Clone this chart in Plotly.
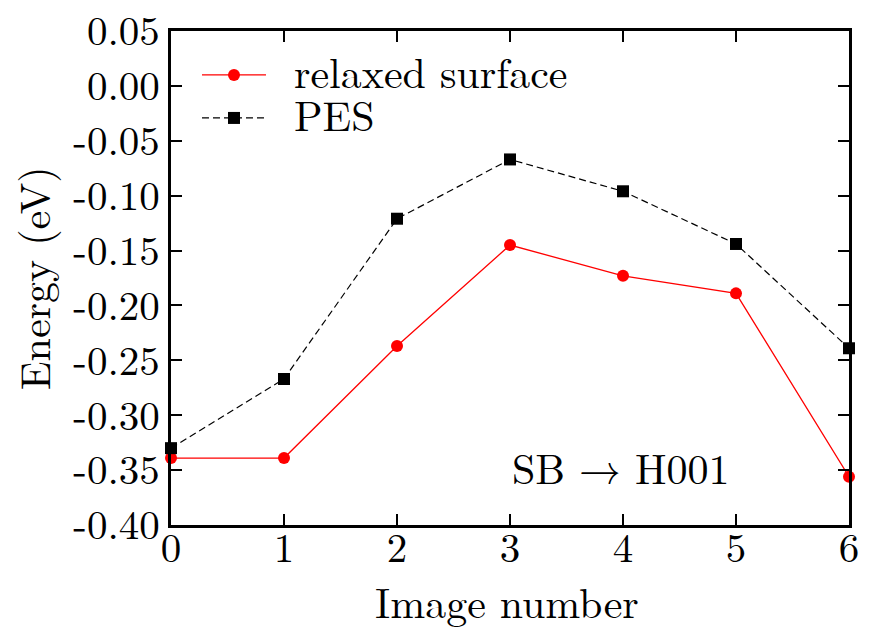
import plotly.graph_objects as go

image = [0, 1, 2, 3, 4, 5, 6]
relaxed = [-0.339, -0.339, -0.237, -0.145, -0.173, -0.189, -0.356]
pes = [-0.330, -0.267, -0.121, -0.067, -0.096, -0.144, -0.239]
ytickvals = [0.05, 0.0, -0.05, -0.10, -0.15, -0.20, -0.25, -0.30, -0.35, -0.40]
yticktext = ["0.05", "0.00", "-0.05", "-0.10", "-0.15", "-0.20", "-0.25", "-0.30", "-0.35", "-0.40"]
xtickvals = [0, 1, 2, 3, 4, 5, 6]
xticktext = ["0", "1", "2", "3", "4", "5", "6"]
series_names = ["relaxed surface", "PES"]
annotation_text = "SB → H001"
x_title = "Image number"
y_title = "Energy (eV)"

FONT = "Latin Modern Roman, CMU Serif, Liberation Serif, serif"
TICK_SIZE = 41
TEXT_SIZE = 42
RED = "#ff0000"
DASH = "7px,4px"

fig = go.Figure()
fig.add_trace(go.Scatter(
    x=image, y=relaxed, mode="lines+markers", name=series_names[0],
    line=dict(color=RED, width=1.3),
    marker=dict(symbol="circle", size=12, color=RED),
    cliponaxis=False, showlegend=False,
))
fig.add_trace(go.Scatter(
    x=image, y=pes, mode="lines+markers", name=series_names[1],
    line=dict(color="black", width=1.2, dash=DASH),
    marker=dict(symbol="square", size=12, color="black"),
    cliponaxis=False, showlegend=False,
))

axis_common = dict(
    showline=True, linecolor="black", linewidth=3, mirror="ticks",
    ticks="inside", ticklen=11, tickwidth=2, tickcolor="black",
    showgrid=False, zeroline=False, automargin=False,
    ticklabeloverflow="allow",
    tickfont=dict(family=FONT, size=TICK_SIZE, color="black"),
)

fig.update_xaxes(range=[0, 6], tickvals=xtickvals, ticktext=xticktext,
                 ticklabelstandoff=-15, **axis_common)
fig.update_yaxes(range=[-0.40, 0.05], tickvals=ytickvals, ticktext=yticktext,
                 ticklabelstandoff=0, **axis_common)

# axis titles
fig.add_annotation(x=0.495, y=-0.152, xref="paper", yref="paper", text=x_title,
                   xanchor="center", yanchor="middle", showarrow=False,
                   font=dict(family=FONT, size=TEXT_SIZE, color="black"))
fig.add_annotation(x=-0.205, y=0.5, xref="paper", yref="paper", text=y_title, textangle=-90,
                   xanchor="center", yanchor="middle", showarrow=False,
                   font=dict(family=FONT, size=TEXT_SIZE, color="black"))

fig.add_annotation(x=3.98, y=-0.347, xref="x", yref="y", text=annotation_text,
                   showarrow=False, font=dict(family=FONT, size=TEXT_SIZE, color="black"))

# Legend drawn by hand (matplotlib-style long handles)
leg_x0, leg_x1, leg_xm, leg_text_x = 0.0457, 0.1401, 0.0929, 0.1785
leg_rows = [0.911, 0.824]
fig.add_shape(type="line", xref="paper", yref="paper", x0=leg_x0, x1=leg_x1,
              y0=leg_rows[0], y1=leg_rows[0], line=dict(color=RED, width=1.3))
fig.add_shape(type="circle", xref="paper", yref="paper", xsizemode="pixel", ysizemode="pixel",
              xanchor=leg_xm, yanchor=leg_rows[0], x0=-6, x1=6, y0=-6, y1=6,
              fillcolor=RED, line=dict(width=0))
fig.add_shape(type="line", xref="paper", yref="paper", x0=leg_x0, x1=leg_x1,
              y0=leg_rows[1], y1=leg_rows[1], line=dict(color="black", width=1.2, dash=DASH))
fig.add_shape(type="rect", xref="paper", yref="paper", xsizemode="pixel", ysizemode="pixel",
              xanchor=leg_xm, yanchor=leg_rows[1], x0=-6, x1=6, y0=-6, y1=6,
              fillcolor="black", line=dict(width=0))
for name, yy in zip(series_names, leg_rows):
    fig.add_annotation(x=leg_text_x, y=yy + 0.010, xref="paper", yref="paper", text=name,
                       xanchor="left", yanchor="middle", showarrow=False,
                       font=dict(family=FONT, size=TEXT_SIZE, color="black"))

fig.update_layout(
    width=862, height=625,
    margin=dict(l=163, r=21, t=23, b=108),
    paper_bgcolor="white", plot_bgcolor="white",
    font=dict(family=FONT, size=TEXT_SIZE, color="black"),
    showlegend=False,
)

fig.write_html("out.html")
